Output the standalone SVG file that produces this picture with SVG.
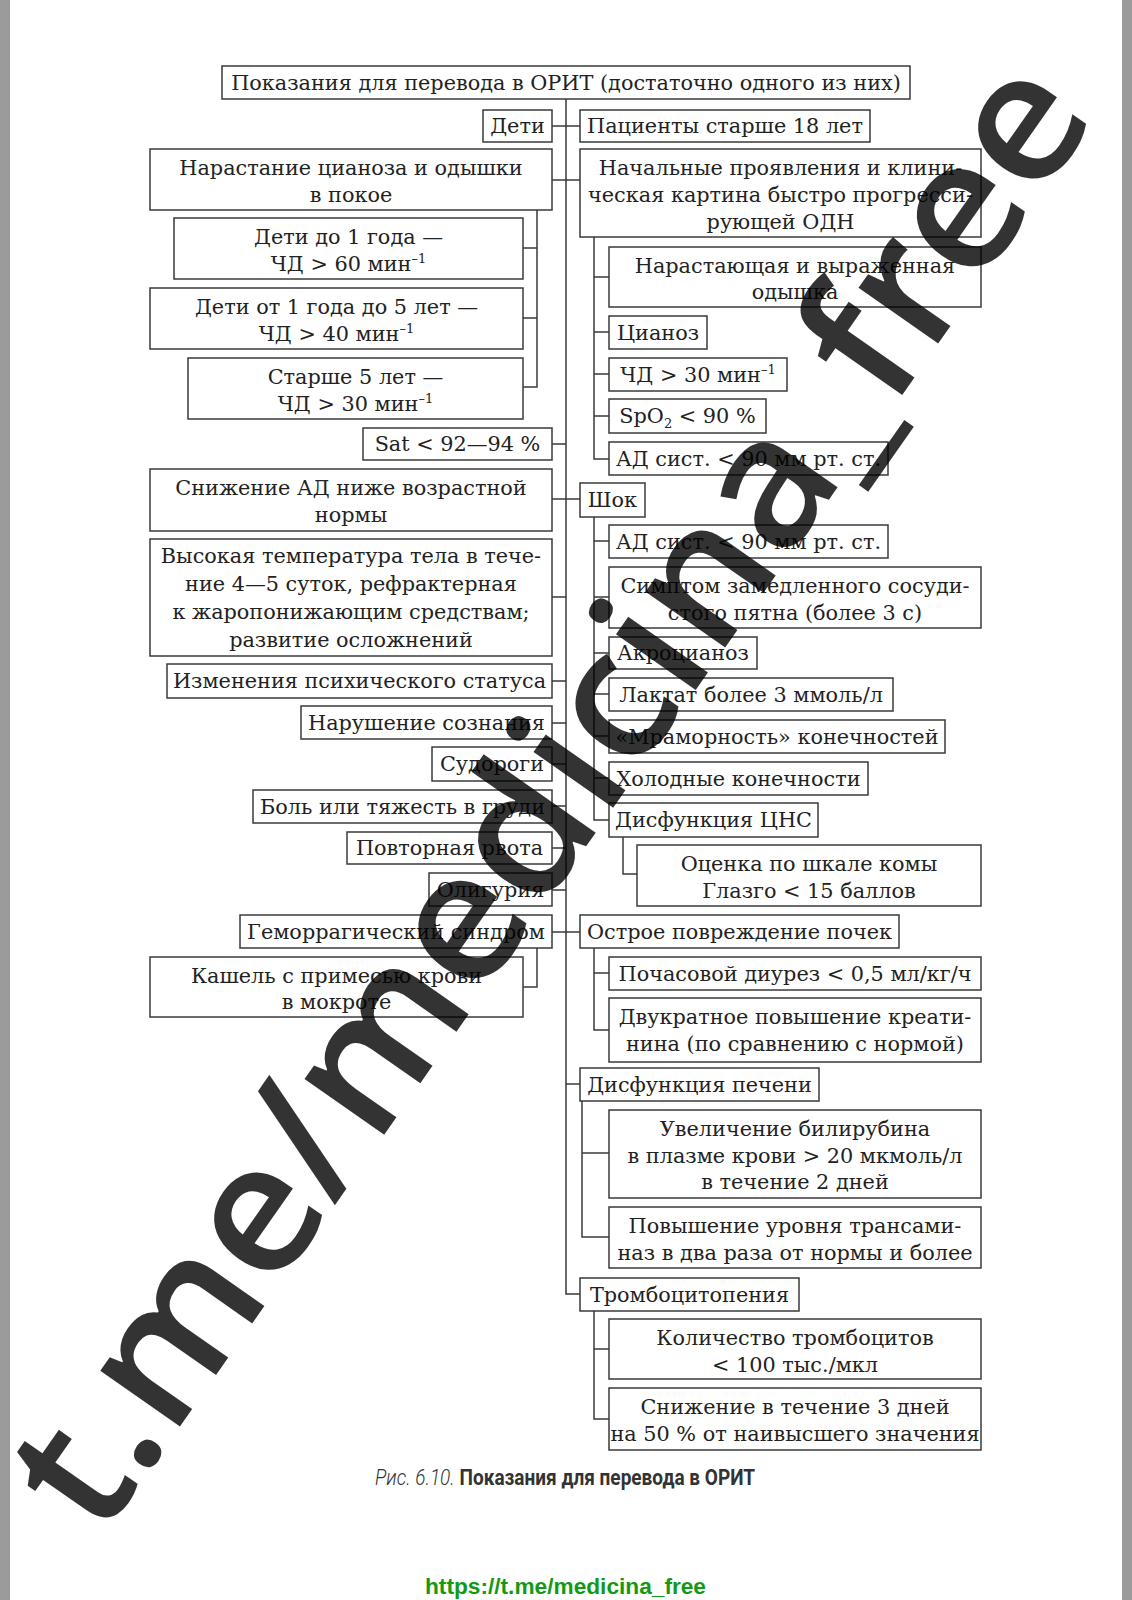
<svg xmlns="http://www.w3.org/2000/svg" width="1132" height="1600" viewBox="0 0 1132 1600">
<style>
.b rect{fill:#fff;stroke:#3a3a3a;stroke-width:1.5}
.b text{font-family:"DejaVu Serif","Liberation Serif",serif;font-size:20.8px;fill:#222;text-anchor:middle}
.ln path{fill:none;stroke:#3a3a3a;stroke-width:1.5}
.sup{font-size:13px}
</style>
<rect x="0" y="0" width="1132" height="1600" fill="#fff"/>
<rect x="0" y="0" width="10" height="1600" fill="#9b9b9b"/>
<rect x="1122" y="0" width="10" height="1600" fill="#9b9b9b"/>

<g id="connectors" class="ln">
<path d="M566 99 V1294 H580"/>
<path d="M552 126 H580"/>
<path d="M552 180 H580"/>
<path d="M537 210 V387 H523 M523 248 H537 M523 318 H537"/>
<path d="M552 444 H566"/>
<path d="M552 499 H580"/>
<path d="M552 597 H566 M552 681 H566 M552 723 H566 M552 764 H566 M552 806 H566 M552 848 H566 M552 890 H566"/>
<path d="M552 932 H580"/>
<path d="M537 948 V987 H523"/>
<path d="M594 237 V459 H609 M594 277 H609 M594 332 H609 M594 374 H609 M594 416 H609"/>
<path d="M594 517 V820 H609 M594 541 H609 M594 597 H609 M594 653 H609 M594 694 H609 M594 736 H609 M594 778 H609"/>
<path d="M623 837 V874 H637"/>
<path d="M594 948 V1030 H609 M594 973 H609"/>
<path d="M566 1084 H580"/>
<path d="M582 1101 V1237 H609 M582 1153 H609"/>
<path d="M594 1311 V1419 H609 M594 1349 H609"/>
</g>

<g id="title" class="b"><rect x="222" y="66" width="688" height="33"/><text x="566" y="90">Показания для перевода в ОРИТ (достаточно одного из них)</text></g>

<g id="deti" class="b"><rect x="483" y="110" width="69" height="32"/><text x="517.5" y="133">Дети</text></g>
<g id="narastanie" class="b"><rect x="150" y="149" width="402" height="61"/><text x="351" y="175">Нарастание цианоза и одышки</text><text x="351" y="202">в покое</text></g>
<g id="deti1" class="b"><rect x="174" y="218" width="349" height="61"/><text x="348.5" y="244">Дети до 1 года —</text><text x="348.5" y="271">ЧД &gt; 60 мин<tspan class="sup" dy="-8">–1</tspan></text></g>
<g id="deti5" class="b"><rect x="150" y="288" width="373" height="61"/><text x="336.5" y="314">Дети от 1 года до 5 лет —</text><text x="336.5" y="341">ЧД &gt; 40 мин<tspan class="sup" dy="-8">–1</tspan></text></g>
<g id="starshe5" class="b"><rect x="188" y="358" width="335" height="61"/><text x="355.5" y="384">Старше 5 лет —</text><text x="355.5" y="411">ЧД &gt; 30 мин<tspan class="sup" dy="-8">–1</tspan></text></g>
<g id="sat" class="b"><rect x="363" y="428" width="189" height="32"/><text x="457.5" y="451">Sat &lt; 92—94 %</text></g>
<g id="snizhenie" class="b"><rect x="150" y="469" width="402" height="62"/><text x="351" y="495">Снижение АД ниже возрастной</text><text x="351" y="522">нормы</text></g>
<g id="temp" class="b"><rect x="150" y="539" width="402" height="117"/><text x="351" y="563">Высокая температура тела в тече-</text><text x="351" y="591">ние 4—5 суток, рефрактерная</text><text x="351" y="619">к жаропонижающим средствам;</text><text x="351" y="647">развитие осложнений</text></g>
<g id="psych" class="b"><rect x="167" y="664" width="385" height="34"/><text x="359.5" y="688">Изменения психического статуса</text></g>
<g id="soznanie" class="b"><rect x="301" y="706" width="251" height="33"/><text x="426.5" y="730">Нарушение сознания</text></g>
<g id="sudorogi" class="b"><rect x="432" y="747" width="120" height="34"/><text x="492" y="771">Судороги</text></g>
<g id="bol" class="b"><rect x="253" y="790" width="299" height="33"/><text x="402.5" y="814">Боль или тяжесть в груди</text></g>
<g id="rvota" class="b"><rect x="347" y="832" width="205" height="32"/><text x="449.5" y="855">Повторная рвота</text></g>
<g id="oliguria" class="b"><rect x="429" y="873" width="123" height="33"/><text x="490.5" y="897">Олигурия</text></g>
<g id="gemorrag" class="b"><rect x="240" y="915" width="312" height="33"/><text x="396" y="939">Геморрагический синдром</text></g>
<g id="kashel" class="b"><rect x="150" y="957" width="373" height="60"/><text x="336.5" y="983">Кашель с примесью крови</text><text x="336.5" y="1009">в мокроте</text></g>

<g id="pacienty" class="b"><rect x="580" y="110" width="290" height="32"/><text x="725" y="133">Пациенты старше 18 лет</text></g>
<g id="odn" class="b"><rect x="580" y="149" width="401" height="88"/><text x="780.5" y="175">Начальные проявления и клини-</text><text x="780.5" y="202">ческая картина быстро прогресси-</text><text x="780.5" y="229">рующей ОДН</text></g>
<g id="odyshka" class="b"><rect x="609" y="247" width="372" height="60"/><text x="795" y="273">Нарастающая и выраженная</text><text x="795" y="299">одышка</text></g>
<g id="cianoz" class="b"><rect x="609" y="316" width="98" height="33"/><text x="658" y="340">Цианоз</text></g>
<g id="chd30" class="b"><rect x="609" y="358" width="178" height="33"/><text x="698" y="382">ЧД &gt; 30 мин<tspan class="sup" dy="-8">–1</tspan></text></g>
<g id="spo2" class="b"><rect x="609" y="399" width="157" height="34"/><text x="687.5" y="423">SpO<tspan class="sup" dy="5">2</tspan><tspan dy="-5"> &lt; 90 %</tspan></text></g>
<g id="ad1" class="b"><rect x="609" y="442" width="279" height="33"/><text x="748.5" y="466">АД сист. &lt; 90 мм рт. ст.</text></g>
<g id="shok" class="b"><rect x="580" y="483" width="65" height="34"/><text x="612.5" y="507">Шок</text></g>
<g id="ad2" class="b"><rect x="609" y="525" width="279" height="33"/><text x="748.5" y="549">АД сист. &lt; 90 мм рт. ст.</text></g>
<g id="simptom" class="b"><rect x="609" y="567" width="372" height="61"/><text x="795" y="593">Симптом замедленного сосуди-</text><text x="795" y="620">стого пятна (более 3 с)</text></g>
<g id="akrocianoz" class="b"><rect x="609" y="637" width="148" height="32"/><text x="683" y="660">Акроцианоз</text></g>
<g id="laktat" class="b"><rect x="609" y="678" width="284" height="33"/><text x="751" y="702">Лактат более 3 ммоль/л</text></g>
<g id="mramor" class="b"><rect x="609" y="720" width="336" height="33"/><text x="777" y="744">«Мраморность» конечностей</text></g>
<g id="holod" class="b"><rect x="609" y="762" width="259" height="33"/><text x="738.5" y="786">Холодные конечности</text></g>
<g id="cns" class="b"><rect x="609" y="803" width="209" height="34"/><text x="713.5" y="827">Дисфункция ЦНС</text></g>
<g id="glazgo" class="b"><rect x="637" y="845" width="344" height="61"/><text x="809" y="871">Оценка по шкале комы</text><text x="809" y="898">Глазго &lt; 15 баллов</text></g>
<g id="pochki" class="b"><rect x="580" y="915" width="319" height="33"/><text x="739.5" y="939">Острое повреждение почек</text></g>
<g id="diurez" class="b"><rect x="609" y="957" width="372" height="33"/><text x="795" y="981">Почасовой диурез &lt; 0,5 мл/кг/ч</text></g>
<g id="kreatinin" class="b"><rect x="609" y="998" width="372" height="64"/><text x="795" y="1024">Двукратное повышение креати-</text><text x="795" y="1051">нина (по сравнению с нормой)</text></g>
<g id="pechen" class="b"><rect x="580" y="1068" width="239" height="33"/><text x="699.5" y="1092">Дисфункция печени</text></g>
<g id="bilirubin" class="b"><rect x="609" y="1110" width="372" height="88"/><text x="795" y="1136">Увеличение билирубина</text><text x="795" y="1163">в плазме крови &gt; 20 мкмоль/л</text><text x="795" y="1189">в течение 2 дней</text></g>
<g id="transaminazy" class="b"><rect x="609" y="1207" width="372" height="61"/><text x="795" y="1233">Повышение уровня трансами-</text><text x="795" y="1260">наз в два раза от нормы и более</text></g>
<g id="trombocitopenia" class="b"><rect x="580" y="1278" width="219" height="33"/><text x="689.5" y="1302">Тромбоцитопения</text></g>
<g id="kolichestvo" class="b"><rect x="609" y="1319" width="372" height="60"/><text x="795" y="1345">Количество тромбоцитов</text><text x="795" y="1372">&lt; 100 тыс./мкл</text></g>
<g id="snizhenie3" class="b"><rect x="609" y="1388" width="372" height="62"/><text x="795" y="1414">Снижение в течение 3 дней</text><text x="795" y="1441">на 50 % от наивысшего значения</text></g>

<text x="375" y="1485" textLength="380" lengthAdjust="spacingAndGlyphs" font-family="Roboto, 'Liberation Sans', sans-serif" font-size="22" fill="#333"><tspan font-style="italic" font-weight="300">Рис. 6.10.</tspan><tspan font-weight="700"> Показания для перевода в ОРИТ</tspan></text>
<text x="565.5" y="1594" text-anchor="middle" textLength="281" lengthAdjust="spacingAndGlyphs" font-family="'Liberation Sans', Arial, sans-serif" font-weight="700" font-size="22" fill="#139a13">https://t.me/medicina_free</text>

<text x="599" y="828" transform="rotate(-55 599 828)" text-anchor="middle" textLength="1740" lengthAdjust="spacingAndGlyphs" font-family="'Open Sans', sans-serif" font-weight="600" font-size="180" fill="#000" fill-opacity="0.8">t.me/medicina_free</text>
</svg>
